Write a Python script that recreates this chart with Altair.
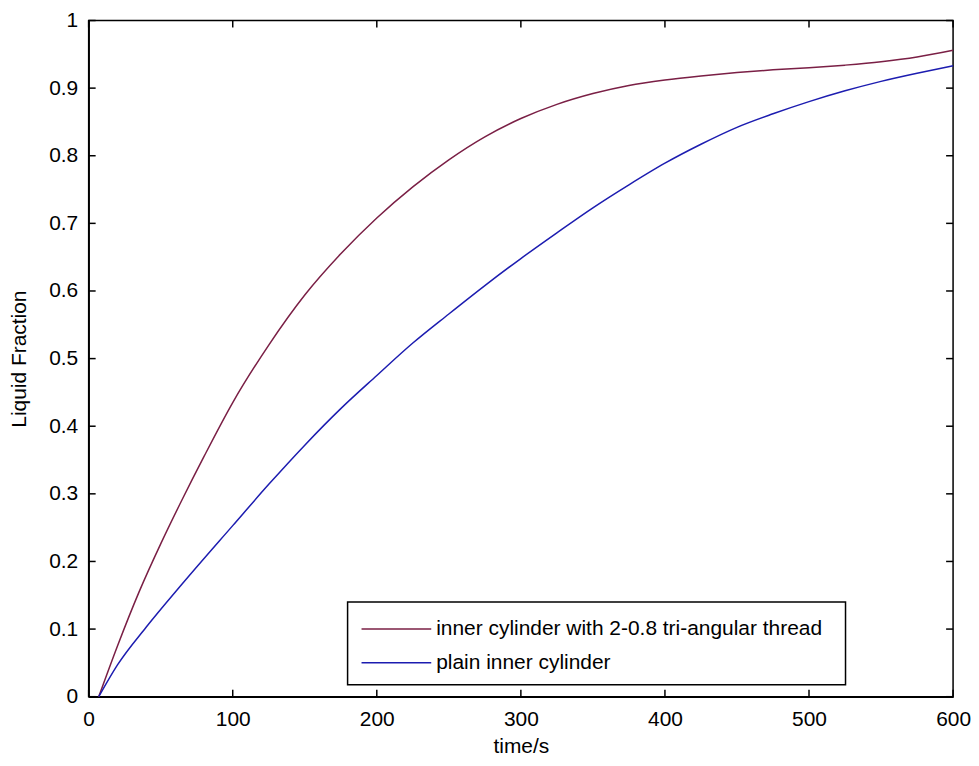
import altair as alt
import pandas as pd

# --- data ---
series_names = ["inner cylinder with 2-0.8 tri-angular thread", "plain inner cylinder"]
series_colors = ["#7a1f45", "#1c1cb0"]

t_thread = [7, 20, 35, 50, 65, 80, 100, 125, 150, 175, 200, 225, 250, 275, 300,
            325, 350, 375, 400, 425, 450, 475, 500, 525, 550, 575, 600]
v_thread = [0.0, 0.075, 0.155, 0.226, 0.292, 0.355, 0.435, 0.520, 0.594, 0.655, 0.708,
            0.754, 0.794, 0.828, 0.855, 0.876, 0.892, 0.904, 0.912, 0.918, 0.923,
            0.927, 0.930, 0.934, 0.939, 0.946, 0.956]

t_plain = [7, 20, 40, 65, 100, 125, 150, 175, 200, 225, 250, 275, 300, 325, 350, 375,
           400, 425, 450, 475, 500, 525, 550, 575, 600]
v_plain = [0.0, 0.047, 0.103, 0.167, 0.253, 0.314, 0.372, 0.426, 0.475, 0.523, 0.566,
           0.608, 0.648, 0.686, 0.723, 0.757, 0.789, 0.817, 0.842, 0.862, 0.880, 0.896,
           0.910, 0.922, 0.933]

x_ticks = [0, 100, 200, 300, 400, 500, 600]
y_ticks = [0, 0.1, 0.2, 0.3, 0.4, 0.5, 0.6, 0.7, 0.8, 0.9, 1]

# --- tables ---
df = pd.concat([
    pd.DataFrame({"t": t_thread, "v": v_thread, "series": series_names[0]}),
    pd.DataFrame({"t": t_plain, "v": v_plain, "series": series_names[1]}),
])
xt = pd.DataFrame({"t": x_ticks})
yt = pd.DataFrame({"v": y_ticks})
one = pd.DataFrame({"k": [0]})

W, H = 868, 679
TL = 7
FONT = "Liberation Sans"
FS = 21

xs = alt.Scale(domain=[0, 600], nice=False, zero=False)
ys = alt.Scale(domain=[0, 1], nice=False, zero=False)
cs = alt.Scale(domain=series_names, range=series_colors)

x_axis = alt.Axis(values=x_ticks, ticks=False, labelPadding=12, title="time/s",
                  titlePadding=6, format="d", labelFlush=False)
y_axis = alt.Axis(values=y_ticks, ticks=False, labelPadding=11, title="Liquid Fraction",
                  titlePadding=19, labelFlush=False,
                  labelExpr="datum.value == 0 ? '0' : datum.value == 1 ? '1' : format(datum.value, '.1f')")

lines = alt.Chart(df).mark_line(strokeWidth=1.5, interpolate="monotone").encode(
    x=alt.X("t:Q", scale=xs, axis=x_axis),
    y=alt.Y("v:Q", scale=ys, axis=y_axis),
    color=alt.Color("series:N", scale=cs, legend=None),
)

def rule(data):
    return alt.Chart(data).mark_rule(color="black", strokeWidth=1.5)

bottom_ticks = rule(xt).encode(x=alt.X("t:Q", scale=xs, axis=x_axis), y=alt.value(H), y2=alt.value(H - TL))
top_ticks = rule(xt).encode(x=alt.X("t:Q", scale=xs, axis=x_axis), y=alt.value(0), y2=alt.value(TL))
left_ticks = rule(yt).encode(y=alt.Y("v:Q", scale=ys, axis=y_axis), x=alt.value(0), x2=alt.value(TL))
right_ticks = rule(yt).encode(y=alt.Y("v:Q", scale=ys, axis=y_axis), x=alt.value(W - TL), x2=alt.value(W))

# --- legend box (drawn as marks) ---
LX, LY, LW, LH = 260, 584, 500, 83
ROW = [LY + 27, LY + 61]
legend_box = alt.Chart(one).mark_rect(fill="white", stroke="black", strokeWidth=1.5).encode(
    x=alt.value(LX), x2=alt.value(LX + LW), y=alt.value(LY), y2=alt.value(LY + LH))
legend_parts = [legend_box]
for i, name in enumerate(series_names):
    legend_parts.append(
        alt.Chart(one).mark_rule(color=series_colors[i], strokeWidth=1.5).encode(
            x=alt.value(LX + 14), x2=alt.value(LX + 84), y=alt.value(ROW[i])))
    legend_parts.append(
        alt.Chart(one).mark_text(align="left", baseline="middle", font=FONT, fontSize=FS,
                                 color="black").encode(
            x=alt.value(LX + 89), y=alt.value(ROW[i]), text=alt.value(name)))

chart = alt.layer(lines, bottom_ticks, top_ticks, left_ticks, right_ticks, *legend_parts).properties(
    width=W, height=H,
    padding={"left": 0, "top": 0, "right": 0, "bottom": 0},
    background="white",
).configure_view(
    stroke="black", strokeWidth=1.5, fill="white"
).configure_axis(
    grid=False, domainColor="black", domainWidth=1.5,
    labelFont=FONT, labelFontSize=FS, labelColor="black",
    titleFont=FONT, titleFontSize=FS, titleFontWeight="normal", titleColor="black",
)

chart.save("out.html", embed_options={"renderer": "svg", "actions": False})
